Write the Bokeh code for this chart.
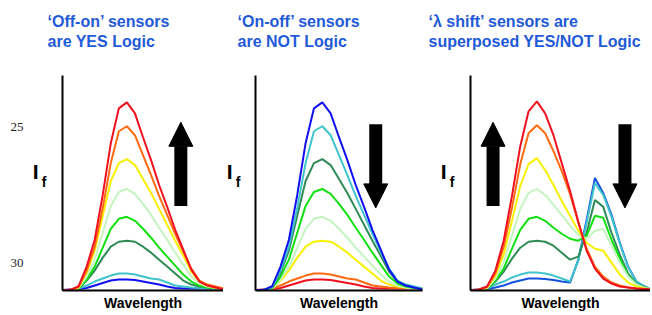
from bokeh.plotting import figure
from bokeh.layouts import row
from bokeh.models import Title, Arrow, NormalHead, FixedTicker, Range1d, LinearAxis
from bokeh.embed import file_html
from bokeh.resources import INLINE

# ---------------- data ----------------
wavelength = [0, 5, 10, 15, 20, 25, 30, 35, 40, 45, 50, 55, 60, 65, 70, 75, 80, 85, 90, 95, 100]
wavelength_shift = [0, 5, 10, 15, 20, 25, 30, 35, 40, 45, 50, 55, 60, 65, 70, 75, 80, 85, 90, 95, 100, 105, 108]

# single-band spectra (highest to lowest intensity)
level_1 = [0.3, 0.7, 4.3, 24, 51, 96, 148, 183, 189, 178, 154, 131, 106, 84, 61, 41, 21, 9, 5, 3, 1]
level_2 = [0.3, 0.7, 3.5, 20, 44, 83, 128, 160, 165, 156, 136, 116, 95, 76, 57, 39, 22, 10, 6, 4, 2]
level_3 = [0.3, 0.7, 3, 18, 40, 75, 110, 128, 132, 126, 112, 98, 82, 66, 50, 35, 19, 9, 5, 3, 1]
level_4 = [0.3, 0.6, 2.5, 14, 31, 58, 85, 99, 102, 97, 87, 76, 63, 51, 38, 26, 14, 7, 4, 2.5, 1]
level_5 = [0.3, 0.6, 2, 11, 24, 43, 62, 72, 74, 70, 62, 53, 43, 34, 25, 16, 9, 5, 3, 2, 1]
level_6 = [0.3, 0.6, 2, 10, 20, 33, 44, 49, 50, 49, 44, 38, 31, 24, 17, 10, 6, 4, 3, 2, 1]
level_7 = [0.3, 0.7, 2, 5, 9, 12, 15, 17, 17, 16, 14, 12, 11, 8, 5, 4, 3, 2.5, 2.5, 2.5, 2]
level_8 = [0.5, 1, 1.5, 2.5, 5, 7.5, 10, 11, 11, 10.5, 9, 7.5, 6, 4, 2.5, 2, 2, 2, 2, 2, 2]

# dual-band (lambda shift) spectra
shift_red = [0.3, 1, 4, 20, 50, 95, 145, 180, 190, 178, 156, 128, 100, 69, 40, 22, 12, 7, 4, 3, 2, 1.5, 1.2]
shift_orange = [0.3, 0.8, 3.5, 17, 44, 83, 127, 158, 166, 158, 140, 120, 97, 68, 42, 24, 14, 8, 5, 3, 2, 1.5, 1.2]
shift_yellow = [0.3, 0.8, 3, 15, 36, 70, 105, 127, 133, 121, 106, 90, 75, 60, 48, 42, 40, 28, 16, 8, 4, 2, 1.5]
shift_pale = [0.3, 0.7, 2.5, 12, 28, 55, 82, 98, 102, 96, 86, 76, 65, 56, 52, 60, 62, 45, 28, 14, 6, 2.5, 1.5]
shift_green = [0.3, 0.7, 2, 10, 22, 42, 61, 72, 74, 70, 63, 57, 52, 50, 55, 75, 73, 51, 32, 15, 6, 2.5, 1.5]
shift_sea = [0.3, 0.7, 2, 9, 19, 32, 43, 49, 50, 49, 45, 38, 31, 34, 58, 91, 84, 58, 36, 17, 7, 3, 1.5]
shift_cyan = [0.3, 0.7, 2, 6, 9, 13, 16, 18, 18, 17, 15, 12, 9, 30, 68, 108, 96, 74, 47, 23, 9, 4, 1.5]
shift_blue = [0.5, 1, 1.5, 3, 5, 8, 10, 12, 12, 11.5, 10.5, 9, 8, 31, 71, 113, 98, 76, 48, 24, 9, 4, 1.5]

# stray tick labels at the far left of the first panel
stray_tick_labels = ["25", "30"]
stray_tick_values = [164, 28]

RED, ORANGE, YELLOW, PALE = "#f01020", "#ff6a10", "#f8f000", "#c4f4c0"
GREEN, SEA, CYAN, BLUE = "#10e010", "#2e8b57", "#40c4cc", "#1010f0"
BLUE_SHIFT = "#1450dc"

colors_yes = [RED, ORANGE, YELLOW, PALE, GREEN, SEA, CYAN, BLUE]
colors_not = [BLUE, CYAN, SEA, GREEN, PALE, YELLOW, ORANGE, RED]
colors_shift = [RED, ORANGE, YELLOW, PALE, GREEN, SEA, CYAN, BLUE_SHIFT]
levels = [level_1, level_2, level_3, level_4, level_5, level_6, level_7, level_8]
shift_series = [shift_red, shift_orange, shift_yellow, shift_pale, shift_green, shift_sea, shift_cyan, shift_blue]

titles = [
    "\u2018Off-on\u2019 sensors\nare YES Logic",
    "\u2018On-off\u2019 sensors\nare NOT Logic",
    "\u2018\u03bb shift\u2019 sensors are\nsuperposed YES/NOT Logic",
]

TITLE_BLUE = "#1f5ad8"
FONT = "Liberation Sans"
H = 313
F_TICK, I_TICK = 109, 120


def quiet_axis(ax):
    ax.major_tick_line_color = None
    ax.minor_tick_line_color = None
    ax.major_tick_in = 0
    ax.major_tick_out = 0
    ax.minor_tick_in = 0
    ax.minor_tick_out = 0


def make_panel(width, bl, br, x_end, title, title_offset, f_standoff):
    p = figure(width=width, height=H, x_range=Range1d(0, x_end), y_range=Range1d(0, 216),
               output_backend="svg", toolbar_location=None, title=None,
               min_border_left=bl, min_border_right=br, min_border_top=75, min_border_bottom=0)
    p.outline_line_color = None
    p.grid.visible = False
    p.background_fill_color = "white"
    p.border_fill_color = "white"

    xa = p.xaxis[0]
    xa.ticker = FixedTicker(ticks=[])
    xa.axis_line_width = 2
    xa.axis_line_color = "black"
    quiet_axis(xa)
    xa.major_label_text_font_size = "0px"
    xa.axis_label = "Wavelength"
    xa.axis_label_text_font = FONT
    xa.axis_label_text_font_style = "bold"
    xa.axis_label_text_font_size = "14px"
    xa.axis_label_standoff = 4
    xa.axis_label_text_color = "black"

    # y axis: its line, with the subscript "f" as a label
    ya = p.yaxis[0]
    ya.ticker = FixedTicker(ticks=[F_TICK])
    ya.major_label_overrides = {F_TICK: "f"}
    ya.axis_line_width = 2
    ya.axis_line_color = "black"
    quiet_axis(ya)
    ya.major_label_standoff = f_standoff
    ya.major_label_text_font = FONT
    ya.major_label_text_font_style = "bold"
    ya.major_label_text_font_size = "14px"
    ya.major_label_text_color = "black"

    # the big "I" of I_f
    ia = LinearAxis(ticker=FixedTicker(ticks=[I_TICK]), major_label_overrides={I_TICK: "I"})
    ia.axis_line_color = None
    quiet_axis(ia)
    ia.major_label_standoff = 0
    ia.major_label_text_font = FONT
    ia.major_label_text_font_style = "bold"
    ia.major_label_text_font_size = "21px"
    ia.major_label_text_color = "black"
    p.add_layout(ia, "left")

    # spacer keeps the two-line title clear of the plot frame
    p.add_layout(Title(text=" ", text_font_size="1px", standoff=22), "above")
    p.add_layout(Title(text=title, align="left", offset=title_offset, text_font=FONT,
                       text_font_style="bold", text_font_size="16px", text_color=TITLE_BLUE,
                       text_line_height=1.2, standoff=0), "above")
    return p


def add_arrow(p, x, y0, y1):
    p.add_layout(Arrow(x_start=x, y_start=y0, x_end=x, y_end=y1, line_width=13, line_color="black",
                       end=NormalHead(size=24, fill_color="black", line_color="black")))


# Panel 1: YES logic
p1 = make_panel(223, 62, 0, 100, titles[0], -15, 16)
for vals, c in zip(levels[::-1], colors_yes[::-1]):
    p1.line(wavelength, vals, line_color=c, line_width=2)
add_arrow(p1, 73.5, 85, 169)
sa = LinearAxis(ticker=FixedTicker(ticks=stray_tick_values),
                major_label_overrides=dict(zip(stray_tick_values, stray_tick_labels)))
sa.axis_line_color = None
quiet_axis(sa)
sa.major_label_standoff = 6
sa.major_label_text_font = "Liberation Serif"
sa.major_label_text_font_size = "13px"
sa.major_label_text_color = "#222222"
p1.add_layout(sa, "left")

# Panel 2: NOT logic
p2 = make_panel(200, 32, 1, 100, titles[1], -18, 15)
for vals, c in zip(levels[::-1], colors_not[::-1]):
    p2.line(wavelength, vals, line_color=c, line_width=2)
add_arrow(p2, 72, 167, 83)

# Panel 3: lambda shift
p3 = make_panel(227, 47, 0, 108.5, titles[2], -42, 16)
for vals, c in zip(shift_series[::-1], colors_shift[::-1]):
    p3.line(wavelength_shift, vals, line_color=c, line_width=2)
add_arrow(p3, 13.6, 85, 169)
add_arrow(p3, 93.1, 167, 83)

layout = row(p1, p2, p3)
open("out.html", "w").write(file_html(layout, INLINE))
